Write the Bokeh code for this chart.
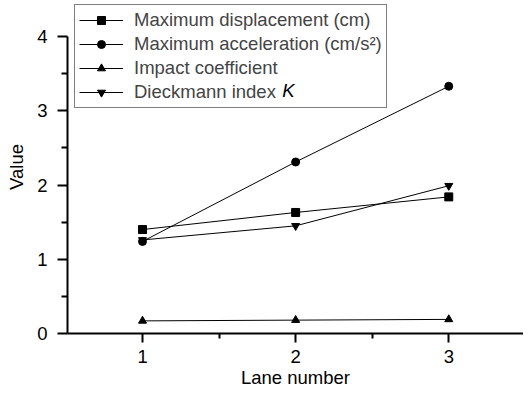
from bokeh.plotting import figure
from bokeh.models import FixedTicker, Legend, LegendItem, Label, Range1d
from bokeh.embed import file_html
from bokeh.resources import INLINE

lanes = [1, 2, 3]
displacement = [1.40, 1.63, 1.84]
acceleration = [1.24, 2.31, 3.33]
impact = [0.17, 0.18, 0.19]
dieckmann = [1.26, 1.45, 1.99]

labels = ["Maximum displacement (cm)", "Maximum acceleration (cm/s\u00b2)",
          "Impact coefficient", "Dieckmann index"]
markers = ["square", "circle", "triangle", "inverted_triangle"]
series = [displacement, acceleration, impact, dieckmann]

FONT = "Liberation Sans"
FS = "18.5px"

p = figure(width=523, height=393, output_backend="svg", toolbar_location=None,
           x_range=Range1d(0.51, 3.488), y_range=Range1d(0, 4.485),
           min_border_left=67, min_border_right=0, min_border_top=0, min_border_bottom=60)
p.outline_line_color = None
p.grid.visible = False
p.background_fill_color = "white"
p.border_fill_color = "white"

items = []
for vals, mk, lab in zip(series, markers, labels):
    ln = p.line(lanes, vals, line_color="black", line_width=1)
    sc = p.scatter(lanes, vals, marker=mk, size=8, fill_color="black", line_color="black")
    items.append(LegendItem(label=lab, renderers=[ln, sc]))

for ax in (p.xaxis[0], p.yaxis[0]):
    ax.axis_line_width = 2
    ax.major_tick_line_width = 2
    ax.minor_tick_line_width = 2
    ax.major_tick_in = 0
    ax.minor_tick_in = 0
    ax.major_label_text_font = FONT
    ax.major_label_text_font_size = FS
    ax.major_label_text_color = "black"
    ax.axis_label_text_font = FONT
    ax.axis_label_text_font_size = FS
    ax.axis_label_text_font_style = "normal"
    ax.axis_label_text_color = "black"

p.xaxis.ticker = FixedTicker(ticks=[1, 2, 3], minor_ticks=[0.5, 1.5, 2.5, 3.5])
p.yaxis.ticker = FixedTicker(ticks=[0, 1, 2, 3, 4], minor_ticks=[0.5, 1.5, 2.5, 3.5])
p.xaxis.major_tick_out = 9
p.xaxis.minor_tick_out = 5
p.yaxis.major_tick_out = 10
p.yaxis.minor_tick_out = 6
p.xaxis.major_label_standoff = 7
p.yaxis.major_label_standoff = 10
p.xaxis.axis_label = "Lane number"
p.yaxis.axis_label = "Value"
p.xaxis.axis_label_standoff = 1
p.yaxis.axis_label_standoff = 7
p.yaxis.bounds = (0, 4)

legend = Legend(items=items, location=(7, 225))
legend.border_line_color = "black"
legend.border_line_width = 1
legend.background_fill_alpha = 0
legend.label_text_font = FONT
legend.label_text_font_size = FS
legend.glyph_width = 44
legend.glyph_height = 20
legend.label_height = 20
legend.spacing = 2
legend.padding = 4
legend.margin = 0
legend.label_standoff = 11
legend.level = "annotation"
p.add_layout(legend, "center")

k_label = Label(x=1.912, y=3.275, text="K", text_font=FONT, text_font_size=FS,
                text_font_style="italic", text_baseline="middle", text_align="left",
                text_color="black", level="overlay")
p.add_layout(k_label)

open("out.html", "w").write(file_html(p, INLINE))
